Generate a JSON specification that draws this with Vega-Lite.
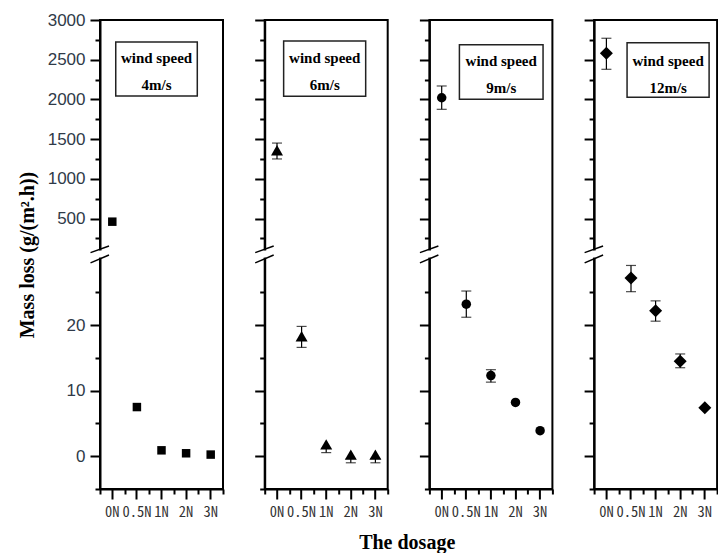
{
  "$schema": "https://vega.github.io/schema/vega-lite/v6.json",
  "background": "white",
  "padding": {"left": 16, "top": 10, "right": 0, "bottom": 0},
  "spacing": 41.7,
  "bounds": "flush",
  "config": {"view": {"stroke": "black", "strokeWidth": 2}},
  "resolve": {"scale": {"x": "independent", "y": "independent"}},
  "datasets": {
    "loss": [
      {"speed": "4m/s", "dosage": "0N", "loss": 460},
      {"speed": "4m/s", "dosage": "0.5N", "loss": 7.5},
      {"speed": "4m/s", "dosage": "1N", "loss": 0.9},
      {"speed": "4m/s", "dosage": "2N", "loss": 0.45},
      {"speed": "4m/s", "dosage": "3N", "loss": 0.25},
      {"speed": "6m/s", "dosage": "0N", "loss": 1360, "lo": 1250, "hi": 1450},
      {"speed": "6m/s", "dosage": "0.5N", "loss": 18.3, "lo": 16.6, "hi": 19.8},
      {"speed": "6m/s", "dosage": "1N", "loss": 1.8, "lo": 0.55, "hi": 1.2},
      {"speed": "6m/s", "dosage": "2N", "loss": 0.25, "lo": -1.0, "hi": -0.35},
      {"speed": "6m/s", "dosage": "3N", "loss": 0.25, "lo": -1.0, "hi": -0.35},
      {"speed": "9m/s", "dosage": "0N", "loss": 2021, "lo": 1875, "hi": 2169},
      {"speed": "9m/s", "dosage": "0.5N", "loss": 23.2, "lo": 21.2, "hi": 25.2},
      {"speed": "9m/s", "dosage": "1N", "loss": 12.3, "lo": 11.3, "hi": 13.2},
      {"speed": "9m/s", "dosage": "2N", "loss": 8.2},
      {"speed": "9m/s", "dosage": "3N", "loss": 3.9},
      {"speed": "12m/s", "dosage": "0N", "loss": 2581, "lo": 2379, "hi": 2770},
      {"speed": "12m/s", "dosage": "0.5N", "loss": 27.2, "lo": 25.1, "hi": 29.1},
      {"speed": "12m/s", "dosage": "1N", "loss": 22.2, "lo": 20.6, "hi": 23.7},
      {"speed": "12m/s", "dosage": "2N", "loss": 14.5, "lo": 13.5, "hi": 15.6},
      {"speed": "12m/s", "dosage": "3N", "loss": 7.4}
    ]
  },
  "hconcat": [
    {
      "width": 123, "height": 469,
      "data": {"values": [{"speed": "4m/s"}]},
      "resolve": {"scale": {"x": "independent"}, "axis": {"x": "independent", "y": "independent"}},
      "layer": [
        {
          "mark": {"type": "rect", "fill": "white", "stroke": "#222", "strokeWidth": 1.5},
          "encoding": {
            "x": {"datum": 1.28, "type": "quantitative", "scale": {"domain": [0, 10], "nice": false, "zero": false}, "axis": {"orient": "bottom", "values": [0, 2, 4, 6, 8, 10], "tickSize": 5, "tickWidth": 2, "tickColor": "black", "labels": false, "domain": false, "grid": false, "title": null}},
            "x2": {"datum": 7.91},
            "y": {"datum": 2723, "type": "quantitative", "scale": {"type": "linear", "domain": [-5, 31, 65.5, 3000], "range": [469, 233, 233, 0], "nice": false, "zero": false}, "axis": {"orient": "left", "values": [-5, 5, 15, 25, 250, 750, 1250, 1750, 2250, 2750], "tickSize": 5, "tickWidth": 2, "tickColor": "black", "labels": false, "domain": false, "grid": false, "title": null}},
            "y2": {"datum": 2043}
          }
        },
        {
          "mark": {"type": "text", "font": "Liberation Serif", "fontWeight": "bold", "fontSize": 15, "align": "center", "baseline": "middle", "color": "black"},
          "encoding": {
            "x": {"datum": 4.6, "type": "quantitative", "scale": {"domain": [0, 10], "nice": false, "zero": false}, "axis": null},
            "y": {"datum": 2521, "type": "quantitative", "scale": {"type": "linear", "domain": [-5, 31, 65.5, 3000], "range": [469, 233, 233, 0], "nice": false, "zero": false}, "axis": null},
            "text": {"value": "wind speed"}
          }
        },
        {
          "mark": {"type": "text", "font": "Liberation Serif", "fontWeight": "bold", "fontSize": 15, "align": "center", "baseline": "middle", "color": "black"},
          "encoding": {
            "x": {"datum": 4.6, "type": "quantitative", "scale": {"domain": [0, 10], "nice": false, "zero": false}, "axis": null},
            "y": {"datum": 2181, "type": "quantitative", "scale": {"type": "linear", "domain": [-5, 31, 65.5, 3000], "range": [469, 233, 233, 0], "nice": false, "zero": false}, "axis": null},
            "text": {"field": "speed"}
          }
        },
        {
          "mark": {"type": "rule", "color": "white", "strokeWidth": 5},
          "encoding": {
            "x": {"datum": 0, "type": "quantitative", "scale": {"domain": [0, 10], "nice": false, "zero": false}, "axis": null},
            "y": {"datum": 97, "type": "quantitative", "scale": {"type": "linear", "domain": [-5, 31, 65.5, 3000], "range": [469, 233, 233, 0], "nice": false, "zero": false}, "axis": null},
            "y2": {"datum": 30.3}
          }
        },
        {
          "mark": {"type": "rule", "color": "black", "strokeWidth": 1.5},
          "encoding": {
            "x": {"datum": -0.77, "type": "quantitative", "scale": {"domain": [0, 10], "nice": false, "zero": false}, "axis": null},
            "x2": {"datum": 0.73},
            "y": {"datum": 69.8, "type": "quantitative", "scale": {"type": "linear", "domain": [-5, 31, 65.5, 3000], "range": [469, 233, 233, 0], "nice": false, "zero": false}, "axis": null},
            "y2": {"datum": 154}
          }
        },
        {
          "mark": {"type": "rule", "color": "black", "strokeWidth": 1.5},
          "encoding": {
            "x": {"datum": -0.77, "type": "quantitative", "scale": {"domain": [0, 10], "nice": false, "zero": false}, "axis": null},
            "x2": {"datum": 0.73},
            "y": {"datum": 29.5, "type": "quantitative", "scale": {"type": "linear", "domain": [-5, 31, 65.5, 3000], "range": [469, 233, 233, 0], "nice": false, "zero": false}, "axis": null},
            "y2": {"datum": 30.7}
          }
        },
        {
          "data": {"name": "loss"},
          "transform": [{"filter": "datum.speed == '4m/s'"}],
          "mark": {"type": "point", "shape": "square", "filled": true, "color": "black", "opacity": 1, "size": 72},
          "encoding": {
            "x": {"field": "dosage", "type": "nominal", "scale": {"type": "band", "domain": ["0N", "0.5N", "1N", "2N", "3N"], "paddingInner": 0, "paddingOuter": 0}, "axis": {"orient": "bottom", "bandPosition": 0.5, "tickSize": 10, "tickWidth": 2, "tickColor": "black", "domainColor": "black", "domainWidth": 2, "labelFont": "Noto Sans Mono CJK SC, Liberation Mono, monospace", "labelFontSize": 14.5, "labelColor": "#333333", "labelPadding": 6, "labelAngle": 0, "grid": false, "title": null}},
            "y": {"field": "loss", "type": "quantitative", "scale": {"type": "linear", "domain": [-5, 31, 65.5, 3000], "range": [469, 233, 233, 0], "nice": false, "zero": false}, "axis": {"orient": "left", "values": [0, 10, 20, 500, 1000, 1500, 2000, 2500, 3000], "format": "d", "tickSize": 10, "tickWidth": 2, "tickColor": "black", "domainColor": "black", "domainWidth": 2, "labelFont": "Liberation Sans", "labelFontSize": 17, "labelColor": "#2f3a48", "labelPadding": 5, "grid": false, "title": "Mass loss (g/(m².h))", "titleFont": "Liberation Serif", "titleFontWeight": "bold", "titleFontSize": 20, "titleColor": "black", "titlePadding": 10}}
          }
        }
      ]
    },
    {
      "width": 123, "height": 469,
      "data": {"values": [{"speed": "6m/s"}]},
      "resolve": {"scale": {"x": "independent"}, "axis": {"x": "independent", "y": "independent"}},
      "layer": [
        {
          "mark": {"type": "rect", "fill": "white", "stroke": "#222", "strokeWidth": 1.5},
          "encoding": {
            "x": {"datum": 1.54, "type": "quantitative", "scale": {"domain": [0, 10], "nice": false, "zero": false}, "axis": {"orient": "bottom", "values": [0, 2, 4, 6, 8, 10], "tickSize": 5, "tickWidth": 2, "tickColor": "black", "labels": false, "domain": false, "grid": false, "title": null}},
            "x2": {"datum": 8.21},
            "y": {"datum": 2736, "type": "quantitative", "scale": {"type": "linear", "domain": [-5, 31, 65.5, 3000], "range": [469, 233, 233, 0], "nice": false, "zero": false}, "axis": {"orient": "left", "values": [-5, 5, 15, 25, 250, 750, 1250, 1750, 2250, 2750], "tickSize": 5, "tickWidth": 2, "tickColor": "black", "labels": false, "domain": false, "grid": false, "title": null}},
            "y2": {"datum": 2039}
          }
        },
        {
          "mark": {"type": "text", "font": "Liberation Serif", "fontWeight": "bold", "fontSize": 15, "align": "center", "baseline": "middle", "color": "black"},
          "encoding": {
            "x": {"datum": 4.88, "type": "quantitative", "scale": {"domain": [0, 10], "nice": false, "zero": false}, "axis": null},
            "y": {"datum": 2518, "type": "quantitative", "scale": {"type": "linear", "domain": [-5, 31, 65.5, 3000], "range": [469, 233, 233, 0], "nice": false, "zero": false}, "axis": null},
            "text": {"value": "wind speed"}
          }
        },
        {
          "mark": {"type": "text", "font": "Liberation Serif", "fontWeight": "bold", "fontSize": 15, "align": "center", "baseline": "middle", "color": "black"},
          "encoding": {
            "x": {"datum": 4.88, "type": "quantitative", "scale": {"domain": [0, 10], "nice": false, "zero": false}, "axis": null},
            "y": {"datum": 2181, "type": "quantitative", "scale": {"type": "linear", "domain": [-5, 31, 65.5, 3000], "range": [469, 233, 233, 0], "nice": false, "zero": false}, "axis": null},
            "text": {"field": "speed"}
          }
        },
        {
          "mark": {"type": "rule", "color": "white", "strokeWidth": 5},
          "encoding": {
            "x": {"datum": 0, "type": "quantitative", "scale": {"domain": [0, 10], "nice": false, "zero": false}, "axis": null},
            "y": {"datum": 97, "type": "quantitative", "scale": {"type": "linear", "domain": [-5, 31, 65.5, 3000], "range": [469, 233, 233, 0], "nice": false, "zero": false}, "axis": null},
            "y2": {"datum": 30.3}
          }
        },
        {
          "mark": {"type": "rule", "color": "black", "strokeWidth": 1.5},
          "encoding": {
            "x": {"datum": -0.77, "type": "quantitative", "scale": {"domain": [0, 10], "nice": false, "zero": false}, "axis": null},
            "x2": {"datum": 0.73},
            "y": {"datum": 69.8, "type": "quantitative", "scale": {"type": "linear", "domain": [-5, 31, 65.5, 3000], "range": [469, 233, 233, 0], "nice": false, "zero": false}, "axis": null},
            "y2": {"datum": 154}
          }
        },
        {
          "mark": {"type": "rule", "color": "black", "strokeWidth": 1.5},
          "encoding": {
            "x": {"datum": -0.77, "type": "quantitative", "scale": {"domain": [0, 10], "nice": false, "zero": false}, "axis": null},
            "x2": {"datum": 0.73},
            "y": {"datum": 29.5, "type": "quantitative", "scale": {"type": "linear", "domain": [-5, 31, 65.5, 3000], "range": [469, 233, 233, 0], "nice": false, "zero": false}, "axis": null},
            "y2": {"datum": 30.7}
          }
        },
        {
          "data": {"name": "loss"},
          "transform": [{"filter": "datum.speed == '6m/s' && isValid(datum.lo)"}],
          "mark": {"type": "errorbar", "color": "black", "ticks": {"size": 10, "thickness": 1.2}, "rule": {"strokeWidth": 1.2}},
          "encoding": {
            "x": {"field": "dosage", "type": "nominal", "scale": {"type": "band", "domain": ["0N", "0.5N", "1N", "2N", "3N"], "paddingInner": 0, "paddingOuter": 0}, "axis": null},
            "y": {"field": "lo", "type": "quantitative", "scale": {"type": "linear", "domain": [-5, 31, 65.5, 3000], "range": [469, 233, 233, 0], "nice": false, "zero": false}, "axis": null},
            "y2": {"field": "hi"}
          }
        },
        {
          "data": {"name": "loss"},
          "transform": [{"filter": "datum.speed == '6m/s'"}],
          "mark": {"type": "point", "shape": "triangle-up", "filled": true, "color": "black", "opacity": 1, "size": 144},
          "encoding": {
            "x": {"field": "dosage", "type": "nominal", "scale": {"type": "band", "domain": ["0N", "0.5N", "1N", "2N", "3N"], "paddingInner": 0, "paddingOuter": 0}, "axis": {"orient": "bottom", "bandPosition": 0.5, "tickSize": 10, "tickWidth": 2, "tickColor": "black", "domainColor": "black", "domainWidth": 2, "labelFont": "Noto Sans Mono CJK SC, Liberation Mono, monospace", "labelFontSize": 14.5, "labelColor": "#333333", "labelPadding": 6, "labelAngle": 0, "grid": false, "title": "The dosage", "titleFont": "Liberation Serif", "titleFontWeight": "bold", "titleFontSize": 20, "titleColor": "black", "titleX": 142, "titleY": 59, "titleBaseline": "alphabetic", "titleAlign": "center", "titleAngle": 0}},
            "y": {"field": "loss", "type": "quantitative", "scale": {"type": "linear", "domain": [-5, 31, 65.5, 3000], "range": [469, 233, 233, 0], "nice": false, "zero": false}, "axis": {"orient": "left", "values": [0, 10, 20, 500, 1000, 1500, 2000, 2500, 3000], "tickSize": 10, "tickWidth": 2, "tickColor": "black", "domainColor": "black", "domainWidth": 2, "labels": false, "grid": false, "title": null}}
          }
        }
      ]
    },
    {
      "width": 123, "height": 469,
      "data": {"values": [{"speed": "9m/s"}]},
      "resolve": {"scale": {"x": "independent"}, "axis": {"x": "independent", "y": "independent"}},
      "layer": [
        {
          "mark": {"type": "rect", "fill": "white", "stroke": "#222", "strokeWidth": 1.5},
          "encoding": {
            "x": {"datum": 2.44, "type": "quantitative", "scale": {"domain": [0, 10], "nice": false, "zero": false}, "axis": {"orient": "bottom", "values": [0, 2, 4, 6, 8, 10], "tickSize": 5, "tickWidth": 2, "tickColor": "black", "labels": false, "domain": false, "grid": false, "title": null}},
            "x2": {"datum": 9.24},
            "y": {"datum": 2689, "type": "quantitative", "scale": {"type": "linear", "domain": [-5, 31, 65.5, 3000], "range": [469, 233, 233, 0], "nice": false, "zero": false}, "axis": {"orient": "left", "values": [-5, 5, 15, 25, 250, 750, 1250, 1750, 2250, 2750], "tickSize": 5, "tickWidth": 2, "tickColor": "black", "labels": false, "domain": false, "grid": false, "title": null}},
            "y2": {"datum": 2001}
          }
        },
        {
          "mark": {"type": "text", "font": "Liberation Serif", "fontWeight": "bold", "fontSize": 15, "align": "center", "baseline": "middle", "color": "black"},
          "encoding": {
            "x": {"datum": 5.84, "type": "quantitative", "scale": {"domain": [0, 10], "nice": false, "zero": false}, "axis": null},
            "y": {"datum": 2484, "type": "quantitative", "scale": {"type": "linear", "domain": [-5, 31, 65.5, 3000], "range": [469, 233, 233, 0], "nice": false, "zero": false}, "axis": null},
            "text": {"value": "wind speed"}
          }
        },
        {
          "mark": {"type": "text", "font": "Liberation Serif", "fontWeight": "bold", "fontSize": 15, "align": "center", "baseline": "middle", "color": "black"},
          "encoding": {
            "x": {"datum": 5.84, "type": "quantitative", "scale": {"domain": [0, 10], "nice": false, "zero": false}, "axis": null},
            "y": {"datum": 2144, "type": "quantitative", "scale": {"type": "linear", "domain": [-5, 31, 65.5, 3000], "range": [469, 233, 233, 0], "nice": false, "zero": false}, "axis": null},
            "text": {"field": "speed"}
          }
        },
        {
          "mark": {"type": "rule", "color": "white", "strokeWidth": 5},
          "encoding": {
            "x": {"datum": 0, "type": "quantitative", "scale": {"domain": [0, 10], "nice": false, "zero": false}, "axis": null},
            "y": {"datum": 97, "type": "quantitative", "scale": {"type": "linear", "domain": [-5, 31, 65.5, 3000], "range": [469, 233, 233, 0], "nice": false, "zero": false}, "axis": null},
            "y2": {"datum": 30.3}
          }
        },
        {
          "mark": {"type": "rule", "color": "black", "strokeWidth": 1.5},
          "encoding": {
            "x": {"datum": -0.77, "type": "quantitative", "scale": {"domain": [0, 10], "nice": false, "zero": false}, "axis": null},
            "x2": {"datum": 0.73},
            "y": {"datum": 69.8, "type": "quantitative", "scale": {"type": "linear", "domain": [-5, 31, 65.5, 3000], "range": [469, 233, 233, 0], "nice": false, "zero": false}, "axis": null},
            "y2": {"datum": 154}
          }
        },
        {
          "mark": {"type": "rule", "color": "black", "strokeWidth": 1.5},
          "encoding": {
            "x": {"datum": -0.77, "type": "quantitative", "scale": {"domain": [0, 10], "nice": false, "zero": false}, "axis": null},
            "x2": {"datum": 0.73},
            "y": {"datum": 29.5, "type": "quantitative", "scale": {"type": "linear", "domain": [-5, 31, 65.5, 3000], "range": [469, 233, 233, 0], "nice": false, "zero": false}, "axis": null},
            "y2": {"datum": 30.7}
          }
        },
        {
          "data": {"name": "loss"},
          "transform": [{"filter": "datum.speed == '9m/s' && isValid(datum.lo)"}],
          "mark": {"type": "errorbar", "color": "black", "ticks": {"size": 10, "thickness": 1.2}, "rule": {"strokeWidth": 1.2}},
          "encoding": {
            "x": {"field": "dosage", "type": "nominal", "scale": {"type": "band", "domain": ["0N", "0.5N", "1N", "2N", "3N"], "paddingInner": 0, "paddingOuter": 0}, "axis": null},
            "y": {"field": "lo", "type": "quantitative", "scale": {"type": "linear", "domain": [-5, 31, 65.5, 3000], "range": [469, 233, 233, 0], "nice": false, "zero": false}, "axis": null},
            "y2": {"field": "hi"}
          }
        },
        {
          "data": {"name": "loss"},
          "transform": [{"filter": "datum.speed == '9m/s'"}],
          "mark": {"type": "point", "shape": "circle", "filled": true, "color": "black", "opacity": 1, "size": 90},
          "encoding": {
            "x": {"field": "dosage", "type": "nominal", "scale": {"type": "band", "domain": ["0N", "0.5N", "1N", "2N", "3N"], "paddingInner": 0, "paddingOuter": 0}, "axis": {"orient": "bottom", "bandPosition": 0.5, "tickSize": 10, "tickWidth": 2, "tickColor": "black", "domainColor": "black", "domainWidth": 2, "labelFont": "Noto Sans Mono CJK SC, Liberation Mono, monospace", "labelFontSize": 14.5, "labelColor": "#333333", "labelPadding": 6, "labelAngle": 0, "grid": false, "title": null}},
            "y": {"field": "loss", "type": "quantitative", "scale": {"type": "linear", "domain": [-5, 31, 65.5, 3000], "range": [469, 233, 233, 0], "nice": false, "zero": false}, "axis": {"orient": "left", "values": [0, 10, 20, 500, 1000, 1500, 2000, 2500, 3000], "tickSize": 10, "tickWidth": 2, "tickColor": "black", "domainColor": "black", "domainWidth": 2, "labels": false, "grid": false, "title": null}}
          }
        }
      ]
    },
    {
      "width": 123, "height": 469,
      "data": {"values": [{"speed": "12m/s"}]},
      "resolve": {"scale": {"x": "independent"}, "axis": {"x": "independent", "y": "independent"}},
      "layer": [
        {
          "mark": {"type": "rect", "fill": "white", "stroke": "#222", "strokeWidth": 1.5},
          "encoding": {
            "x": {"datum": 2.68, "type": "quantitative", "scale": {"domain": [0, 10], "nice": false, "zero": false}, "axis": {"orient": "bottom", "values": [0, 2, 4, 6, 8, 10], "tickSize": 5, "tickWidth": 2, "tickColor": "black", "labels": false, "domain": false, "grid": false, "title": null}},
            "x2": {"datum": 9.35},
            "y": {"datum": 2714, "type": "quantitative", "scale": {"type": "linear", "domain": [-5, 31, 65.5, 3000], "range": [469, 233, 233, 0], "nice": false, "zero": false}, "axis": {"orient": "left", "values": [-5, 5, 15, 25, 250, 750, 1250, 1750, 2250, 2750], "tickSize": 5, "tickWidth": 2, "tickColor": "black", "labels": false, "domain": false, "grid": false, "title": null}},
            "y2": {"datum": 2026}
          }
        },
        {
          "mark": {"type": "text", "font": "Liberation Serif", "fontWeight": "bold", "fontSize": 15, "align": "center", "baseline": "middle", "color": "black"},
          "encoding": {
            "x": {"datum": 6.02, "type": "quantitative", "scale": {"domain": [0, 10], "nice": false, "zero": false}, "axis": null},
            "y": {"datum": 2484, "type": "quantitative", "scale": {"type": "linear", "domain": [-5, 31, 65.5, 3000], "range": [469, 233, 233, 0], "nice": false, "zero": false}, "axis": null},
            "text": {"value": "wind speed"}
          }
        },
        {
          "mark": {"type": "text", "font": "Liberation Serif", "fontWeight": "bold", "fontSize": 15, "align": "center", "baseline": "middle", "color": "black"},
          "encoding": {
            "x": {"datum": 6.02, "type": "quantitative", "scale": {"domain": [0, 10], "nice": false, "zero": false}, "axis": null},
            "y": {"datum": 2147, "type": "quantitative", "scale": {"type": "linear", "domain": [-5, 31, 65.5, 3000], "range": [469, 233, 233, 0], "nice": false, "zero": false}, "axis": null},
            "text": {"field": "speed"}
          }
        },
        {
          "mark": {"type": "rule", "color": "white", "strokeWidth": 5},
          "encoding": {
            "x": {"datum": 0, "type": "quantitative", "scale": {"domain": [0, 10], "nice": false, "zero": false}, "axis": null},
            "y": {"datum": 97, "type": "quantitative", "scale": {"type": "linear", "domain": [-5, 31, 65.5, 3000], "range": [469, 233, 233, 0], "nice": false, "zero": false}, "axis": null},
            "y2": {"datum": 30.3}
          }
        },
        {
          "mark": {"type": "rule", "color": "black", "strokeWidth": 1.5},
          "encoding": {
            "x": {"datum": -0.77, "type": "quantitative", "scale": {"domain": [0, 10], "nice": false, "zero": false}, "axis": null},
            "x2": {"datum": 0.73},
            "y": {"datum": 69.8, "type": "quantitative", "scale": {"type": "linear", "domain": [-5, 31, 65.5, 3000], "range": [469, 233, 233, 0], "nice": false, "zero": false}, "axis": null},
            "y2": {"datum": 154}
          }
        },
        {
          "mark": {"type": "rule", "color": "black", "strokeWidth": 1.5},
          "encoding": {
            "x": {"datum": -0.77, "type": "quantitative", "scale": {"domain": [0, 10], "nice": false, "zero": false}, "axis": null},
            "x2": {"datum": 0.73},
            "y": {"datum": 29.5, "type": "quantitative", "scale": {"type": "linear", "domain": [-5, 31, 65.5, 3000], "range": [469, 233, 233, 0], "nice": false, "zero": false}, "axis": null},
            "y2": {"datum": 30.7}
          }
        },
        {
          "data": {"name": "loss"},
          "transform": [{"filter": "datum.speed == '12m/s' && isValid(datum.lo)"}],
          "mark": {"type": "errorbar", "color": "black", "ticks": {"size": 10, "thickness": 1.2}, "rule": {"strokeWidth": 1.2}},
          "encoding": {
            "x": {"field": "dosage", "type": "nominal", "scale": {"type": "band", "domain": ["0N", "0.5N", "1N", "2N", "3N"], "paddingInner": 0, "paddingOuter": 0}, "axis": null},
            "y": {"field": "lo", "type": "quantitative", "scale": {"type": "linear", "domain": [-5, 31, 65.5, 3000], "range": [469, 233, 233, 0], "nice": false, "zero": false}, "axis": null},
            "y2": {"field": "hi"}
          }
        },
        {
          "data": {"name": "loss"},
          "transform": [{"filter": "datum.speed == '12m/s'"}],
          "mark": {"type": "point", "shape": "diamond", "filled": true, "color": "black", "opacity": 1, "size": 169},
          "encoding": {
            "x": {"field": "dosage", "type": "nominal", "scale": {"type": "band", "domain": ["0N", "0.5N", "1N", "2N", "3N"], "paddingInner": 0, "paddingOuter": 0}, "axis": {"orient": "bottom", "bandPosition": 0.5, "tickSize": 10, "tickWidth": 2, "tickColor": "black", "domainColor": "black", "domainWidth": 2, "labelFont": "Noto Sans Mono CJK SC, Liberation Mono, monospace", "labelFontSize": 14.5, "labelColor": "#333333", "labelPadding": 6, "labelAngle": 0, "grid": false, "title": null}},
            "y": {"field": "loss", "type": "quantitative", "scale": {"type": "linear", "domain": [-5, 31, 65.5, 3000], "range": [469, 233, 233, 0], "nice": false, "zero": false}, "axis": {"orient": "left", "values": [0, 10, 20, 500, 1000, 1500, 2000, 2500, 3000], "tickSize": 10, "tickWidth": 2, "tickColor": "black", "domainColor": "black", "domainWidth": 2, "labels": false, "grid": false, "title": null}}
          }
        }
      ]
    }
  ]
}
